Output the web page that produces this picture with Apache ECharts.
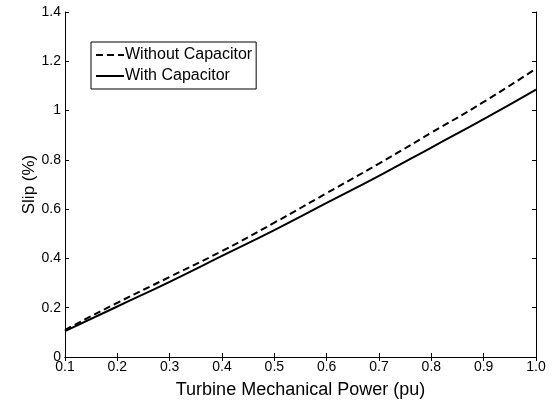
<!DOCTYPE html>
<html><head><meta charset="utf-8">
<script src="https://cdn.jsdelivr.net/npm/echarts@6/dist/echarts.min.js"></script>
<style>html,body{margin:0;padding:0;background:#fff}#c{width:552px;height:400px}</style>
</head><body><div id="c"></div>
<script>
var power = [0.1, 0.2, 0.3, 0.4, 0.5, 0.6, 0.7, 0.8, 0.9, 1.0];
var slipWithout = [0.11, 0.22, 0.325, 0.43, 0.545, 0.665, 0.785, 0.91, 1.035, 1.17];
var slipWith = [0.105, 0.205, 0.305, 0.41, 0.515, 0.625, 0.735, 0.85, 0.965, 1.085];
var seriesNames = ['Without Capacitor', 'With Capacitor'];

var font = 'Liberation Sans, Arial, sans-serif';
var chart = echarts.init(document.getElementById('c'), null, {renderer: 'canvas'});
function pairs(xs, ys) { return xs.map(function (x, i) { return [x, ys[i]]; }); }
var axisLine = {show: true, lineStyle: {color: '#000', width: 1}};
var tick = {show: true, inside: true, length: 4, lineStyle: {color: '#000'}};
chart.setOption({
  animation: false,
  backgroundColor: '#fff',
  grid: {left: 65, right: 16, top: 12, bottom: 43, containLabel: false, outerBoundsMode: 'none'},
  legend: {
    show: true, left: 91, top: 42, orient: 'vertical',
    data: seriesNames,
    borderColor: '#000', borderWidth: 1, borderRadius: 0, backgroundColor: '#fff',
    padding: [5, 4, 5, 4], itemGap: 5, itemWidth: 28, itemHeight: 16,
    itemStyle: {opacity: 0},
    textStyle: {fontFamily: font, fontSize: 16, color: '#000', padding: [0, 0, 0, -4]}
  },
  xAxis: [{
    type: 'value', min: 0.1, max: 1.0, interval: 0.1,
    name: 'Turbine Mechanical Power (pu)', nameLocation: 'middle', nameGap: 24, nameMoveOverlap: false,
    nameTextStyle: {fontFamily: font, fontSize: 18, color: '#000'},
    axisLine: axisLine, axisTick: tick, splitLine: {show: false},
    axisLabel: {fontFamily: font, fontSize: 14, color: '#000', margin: 3,
      formatter: function (v) { return v.toFixed(1); }}
  }, {
    type: 'value', position: 'top', min: 0.1, max: 1.0, interval: 0.1,
    axisLine: axisLine, axisTick: tick, axisLabel: {show: false}, splitLine: {show: false}
  }],
  yAxis: [{
    type: 'value', min: 0, max: 1.4, interval: 0.2,
    name: 'Slip (%)', nameLocation: 'middle', nameGap: 27, nameRotate: 90, nameMoveOverlap: false,
    nameTextStyle: {fontFamily: font, fontSize: 17, color: '#000'},
    axisLine: axisLine, axisTick: tick, splitLine: {show: false},
    axisLabel: {fontFamily: font, fontSize: 14, color: '#000', margin: 4,
      formatter: function (v) { return String(Math.round(v * 10) / 10); }}
  }, {
    type: 'value', position: 'right', min: 0, max: 1.4, interval: 0.2,
    axisLine: axisLine, axisTick: tick, axisLabel: {show: false}, splitLine: {show: false}
  }],
  series: [{
    name: seriesNames[0], type: 'line', smooth: true, symbol: 'none',
    data: pairs(power, slipWithout),
    lineStyle: {color: '#000', width: 2, type: [7, 4]}, itemStyle: {color: '#000'}
  }, {
    name: seriesNames[1], type: 'line', smooth: true, symbol: 'none',
    data: pairs(power, slipWith),
    lineStyle: {color: '#000', width: 2, type: 'solid'}, itemStyle: {color: '#000'}
  }]
});
</script></body></html>
